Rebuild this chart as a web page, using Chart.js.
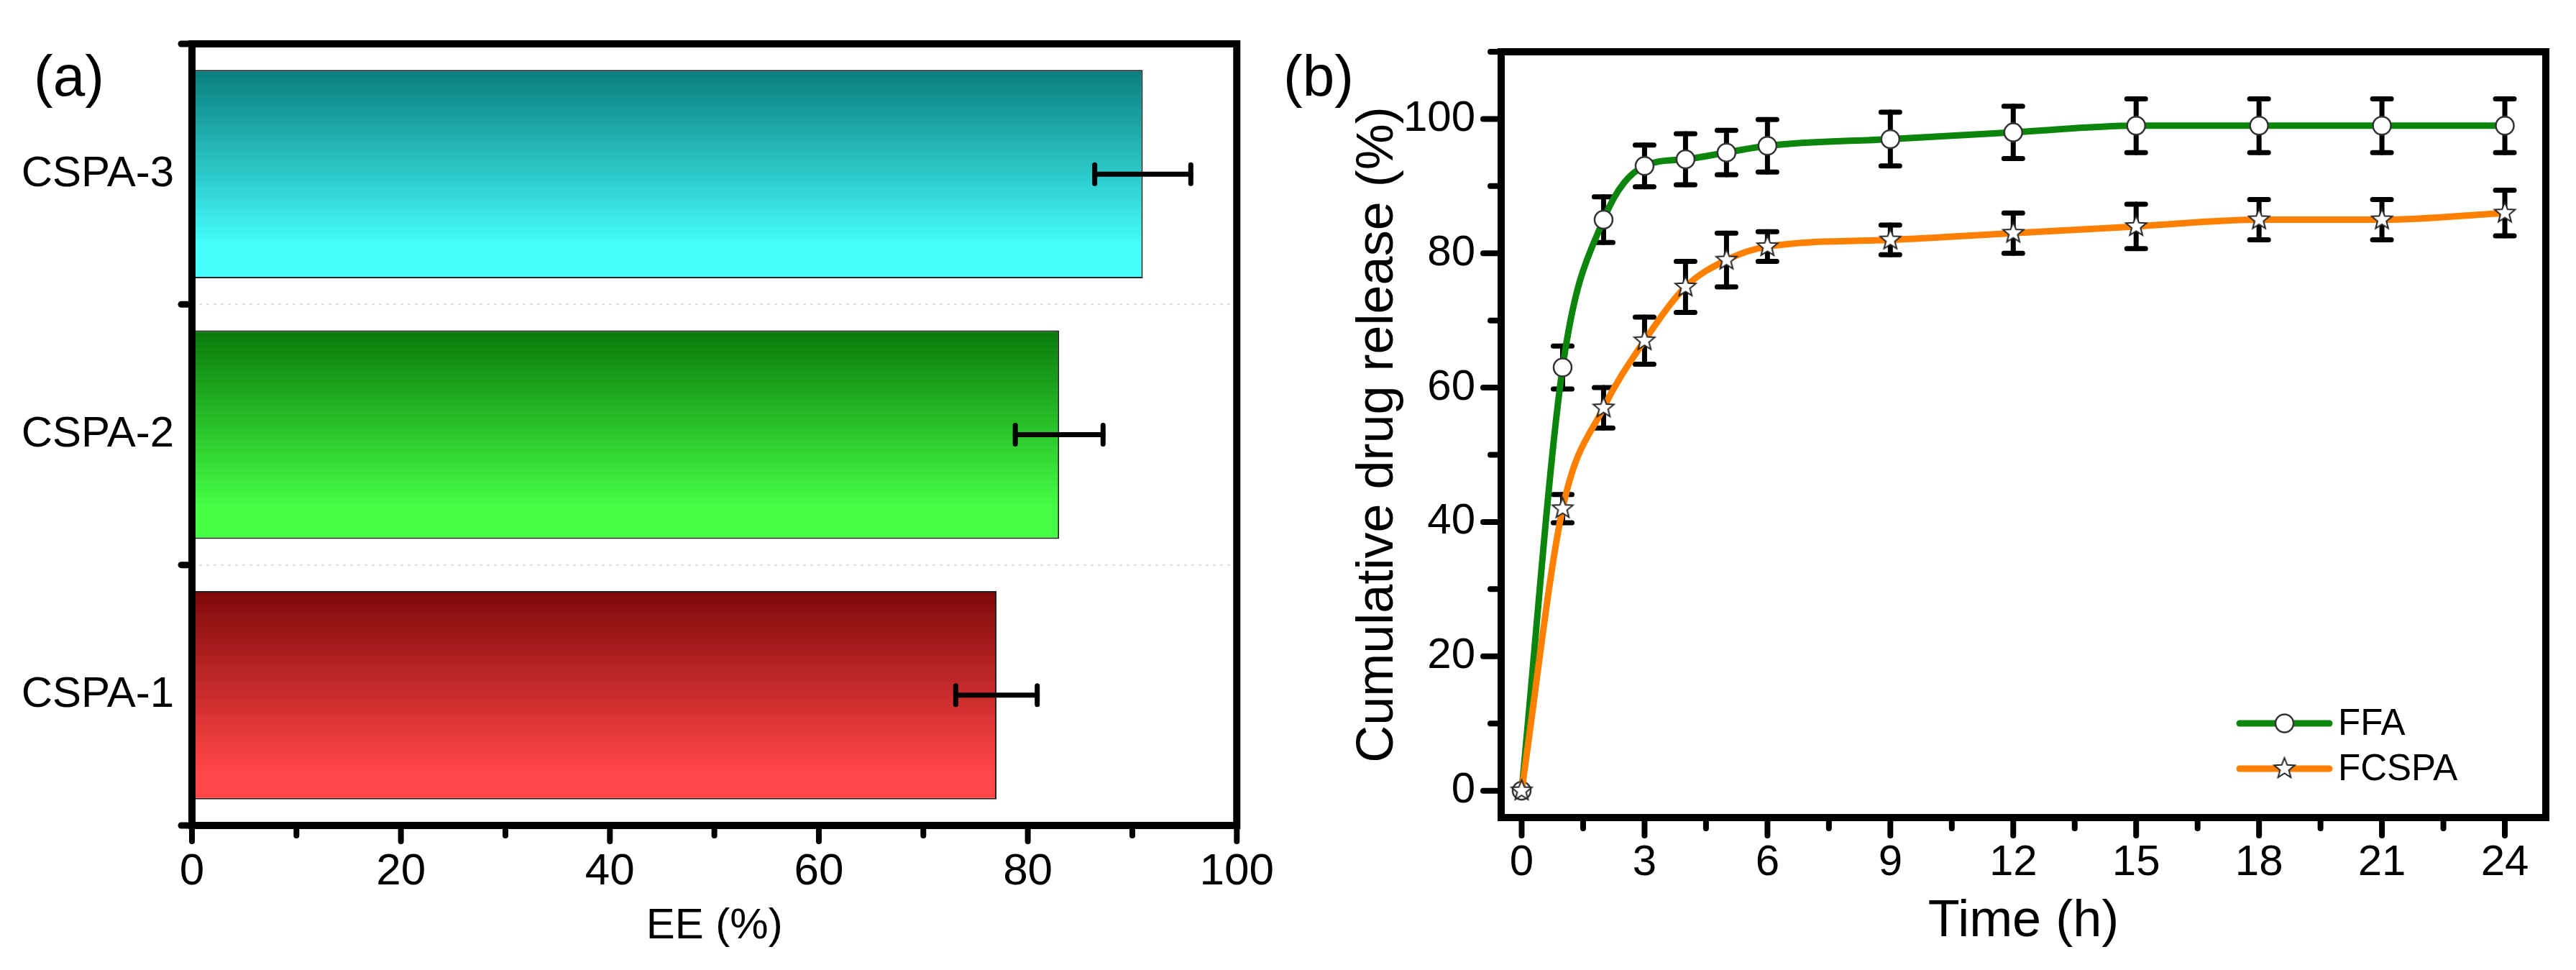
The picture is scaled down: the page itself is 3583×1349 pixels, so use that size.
<!DOCTYPE html>
<html>
<head>
<meta charset="utf-8">
<title>EE (%) and cumulative drug release</title>
<script src="https://cdn.jsdelivr.net/npm/chart.js@4.4.1/dist/chart.umd.min.js"></script>
<style>
  html, body { margin: 0; padding: 0; background: #fff; }
  #boxA { position: absolute; left: 0; top: 0; width: 1800px; height: 1349px; }
  #boxB { position: absolute; left: 1760px; top: 0; width: 1823px; height: 1349px; }
</style>
</head>
<body>
<div id="boxA"><canvas id="chartEE"></canvas></div>
<div id="boxB"><canvas id="chartRelease"></canvas></div>
<script>
//data for panel (a)
const samples = ['CSPA-1', 'CSPA-2', 'CSPA-3'];
const eeValues = [77, 83, 91];
const eeErrors = [3.9, 4.2, 4.6];
const eeTicks = [0, 20, 40, 60, 80, 100];

//data for panel (b)
const hours = [0, 1, 2, 3, 4, 5, 6, 9, 12, 15, 18, 21, 24];
const ffa = [0, 63, 85, 93, 94, 95, 96, 97, 98, 99, 99, 99, 99];
const ffaErrors = [0, 3.2, 3.4, 3.1, 3.8, 3.3, 3.9, 4, 3.9, 4, 4, 4, 4];
const fcspa = [0, 42, 57, 67, 75, 79, 81, 82, 83, 84, 85, 85, 86];
const fcspaErrors = [0, 2.1, 3, 3.5, 3.8, 4, 2.2, 2.2, 3, 3.3, 3, 3, 3.4];
const hourTicks = [0, 3, 6, 9, 12, 15, 18, 21, 24];
const releaseTicks = [0, 20, 40, 60, 80, 100];

//styles
const font = "'Liberation Sans', Arial, sans-serif";
const barTop = ['#7e0909', '#0a790a', '#0a7d7d'];
const barBottom = ['#ff4545', '#45ff45', '#45ffff'];

//star marker drawn once and reused as point style
const star = document.createElement('canvas');
star.width = 36;
star.height = 36;
(function () {
    const c = star.getContext('2d');
    c.beginPath();
    for (let k = 0; k < 10; k++) {
        const r = k % 2 === 0 ? 15 : 6.5;
        const ang = -Math.PI / 2 + k * Math.PI / 5;
        c.lineTo(18 + r * Math.cos(ang), 18 + r * Math.sin(ang));
    }
    c.closePath();
    c.fillStyle = '#fff';
    c.fill();
    c.lineWidth = 2;
    c.strokeStyle = '#222';
    c.stroke();
})();

//gradient for each bar, dark on top and light at bottom
function barGradient(context) {
    const chart = context.chart;
    const area = chart.chartArea;
    const i = context.dataIndex;
    if (!area || i === undefined) return barBottom[0];
    const yc = chart.scales.y.getPixelForValue(i);
    const half = (area.height / samples.length) * 0.8 / 2;
    const g = chart.ctx.createLinearGradient(0, yc - half, 0, yc + half);
    g.addColorStop(0, barTop[i]);
    g.addColorStop(0.85, barBottom[i]);
    g.addColorStop(1, barBottom[i]);
    return g;
}

//minor ticks halfway between the major ones
function minorValues(majors, min, max) {
    const step = majors[1] - majors[0];
    const out = [];
    for (let v = majors[0] + step / 2; v <= max + 1e-9; v += step) {
        if (v >= min) out.push(v);
    }
    return out;
}

function line(ctx, x1, y1, x2, y2) {
    ctx.beginPath();
    ctx.moveTo(x1, y1);
    ctx.lineTo(x2, y2);
    ctx.stroke();
}

//black box and outward ticks
function framePlugin(opt) {
    return {
        id: 'frame',
        afterDraw(chart) {
            const ctx = chart.ctx;
            const a = chart.chartArea;
            ctx.save();
            ctx.strokeStyle = '#000';
            ctx.lineCap = 'round';
            ctx.lineWidth = 8;
            const x = chart.scales.x;
            opt.xMajor.forEach(v => {
                const px = x.getPixelForValue(v);
                line(ctx, px, a.bottom, px, a.bottom + opt.major);
            });
            minorValues(opt.xMajor, x.min, x.max).forEach(v => {
                const px = x.getPixelForValue(v);
                line(ctx, px, a.bottom, px, a.bottom + opt.minor);
            });
            const y = chart.scales.y;
            if (opt.yMajor) {
                opt.yMajor.forEach(v => {
                    const py = y.getPixelForValue(v);
                    line(ctx, a.left, py, a.left - opt.major, py);
                });
                minorValues(opt.yMajor, y.min, y.max).forEach(v => {
                    const py = y.getPixelForValue(v);
                    line(ctx, a.left, py, a.left - opt.minor, py);
                });
            } else {
                //category axis: ticks on the band edges
                const n = chart.data.labels.length;
                const band = a.height / n;
                ctx.lineWidth = 9;
                for (let i = 0; i <= n; i++) {
                    const py = a.top + i * band;
                    line(ctx, a.left, py, a.left - 15, py);
                }
            }
            ctx.lineCap = 'butt';
            ctx.lineWidth = 10;
            ctx.strokeRect(a.left, a.top, a.right - a.left, a.bottom - a.top);
            ctx.fillStyle = '#000';
            ctx.font = '80px ' + font;
            ctx.textBaseline = 'alphabetic';
            ctx.textAlign = 'left';
            ctx.fillText(opt.tag, opt.tagX, 133);
            ctx.restore();
        }
    };
}

//dotted separators between the bars
const separators = {
    id: 'separators',
    beforeDatasetsDraw(chart) {
        const ctx = chart.ctx;
        const a = chart.chartArea;
        const n = chart.data.labels.length;
        const band = a.height / n;
        ctx.save();
        ctx.strokeStyle = '#dcdcdc';
        ctx.lineWidth = 2;
        ctx.setLineDash([4, 6]);
        for (let i = 1; i < n; i++) {
            line(ctx, a.left, a.top + i * band, a.right, a.top + i * band);
        }
        ctx.restore();
    }
};

//horizontal error bars on panel (a)
const barErrors = {
    id: 'barErrors',
    afterDatasetsDraw(chart) {
        const ctx = chart.ctx;
        const x = chart.scales.x;
        const meta = chart.getDatasetMeta(0);
        ctx.save();
        ctx.strokeStyle = '#000';
        ctx.lineWidth = 7;
        ctx.lineCap = 'round';
        meta.data.forEach((bar, i) => {
            const x1 = x.getPixelForValue(eeValues[i] - eeErrors[i]);
            const x2 = x.getPixelForValue(eeValues[i] + eeErrors[i]);
            line(ctx, x1, bar.y, x2, bar.y);
            line(ctx, x1, bar.y - 13, x1, bar.y + 13);
            line(ctx, x2, bar.y - 13, x2, bar.y + 13);
        });
        ctx.restore();
    }
};

//vertical error bars on panel (b), behind the lines
const pointErrors = {
    id: 'pointErrors',
    beforeDatasetsDraw(chart) {
        const ctx = chart.ctx;
        const x = chart.scales.x;
        const y = chart.scales.y;
        ctx.save();
        ctx.strokeStyle = '#000';
        ctx.lineWidth = 7;
        ctx.lineCap = 'round';
        chart.data.datasets.forEach(ds => {
            ds.data.forEach((p, i) => {
                const e = ds.errors[i];
                if (!e) return;
                const px = x.getPixelForValue(p.x);
                const y1 = y.getPixelForValue(p.y - e);
                const y2 = y.getPixelForValue(p.y + e);
                line(ctx, px, y1, px, y2);
                line(ctx, px - 13, y1, px + 13, y1);
                line(ctx, px - 13, y2, px + 13, y2);
            });
        });
        ctx.restore();
    }
};

//legend with line and marker, bottom right of panel (b)
const lineLegend = {
    id: 'lineLegend',
    afterDraw(chart) {
        const ctx = chart.ctx;
        const a = chart.chartArea;
        const x1 = a.right - 426;
        const x2 = a.right - 301;
        ctx.save();
        chart.data.datasets.forEach((ds, k) => {
            const yy = a.bottom - 131 + k * 63;
            ctx.strokeStyle = ds.borderColor;
            ctx.lineWidth = 9;
            ctx.lineCap = 'round';
            line(ctx, x1, yy, x2, yy);
            const xm = (x1 + x2) / 2;
            if (ds.pointStyle === 'circle') {
                ctx.beginPath();
                ctx.arc(xm, yy, 12.5, 0, Math.PI * 2);
                ctx.fillStyle = '#fff';
                ctx.fill();
                ctx.lineWidth = 2.5;
                ctx.strokeStyle = '#333';
                ctx.stroke();
            } else {
                ctx.drawImage(star, xm - 18, yy - 18);
            }
            ctx.fillStyle = '#000';
            ctx.font = '51px ' + font;
            ctx.textBaseline = 'middle';
            ctx.textAlign = 'left';
            ctx.fillText(ds.label, x2 + 12, yy + 2);
        });
        ctx.restore();
    }
};

//panel (a)
const chartEE = new Chart(document.getElementById('chartEE'), {
    type: 'bar',
    data: {
        labels: samples,
        datasets: [{
            label: 'EE',
            data: eeValues,
            backgroundColor: barGradient,
            borderColor: '#222',
            borderWidth: 2,
            borderSkipped: false,
            barPercentage: 0.8,
            categoryPercentage: 1
        }]
    },
    options: {
        indexAxis: 'y',
        responsive: true,
        maintainAspectRatio: false,
        animation: false,
        devicePixelRatio: 1,
        layout: { padding: { left: 0, top: 51, right: 60, bottom: 0 } },
        plugins: { legend: { display: false }, tooltip: { enabled: false } },
        scales: {
            x: {
                type: 'linear',
                min: 0,
                max: 100,
                afterBuildTicks: ax => { ax.ticks = eeTicks.map(v => ({ value: v })); },
                afterFit: ax => { ax.height = 201; },
                grid: { display: false, drawTicks: false },
                border: { display: false },
                ticks: { color: '#000', padding: 28, maxRotation: 0, font: { family: font, size: 62 } },
                title: { display: true, text: 'EE (%)', color: '#000', font: { family: font, size: 60 }, padding: { top: 0, bottom: 25 } }
            },
            y: {
                reverse: true,
                afterFit: ax => { ax.width = 267; },
                grid: { display: false, drawTicks: false },
                border: { display: false },
                ticks: { color: '#000', padding: 25, font: { family: font, size: 60 } }
            }
        }
    },
    plugins: [separators, barErrors, framePlugin({ xMajor: eeTicks, major: 22, minor: 14, tag: '(a)', tagX: 47 })]
});

//panel (b)
const chartRelease = new Chart(document.getElementById('chartRelease'), {
    type: 'line',
    data: {
        datasets: [{
            label: 'FFA',
            data: hours.map((t, i) => ({ x: t, y: ffa[i] })),
            errors: ffaErrors,
            borderColor: '#0b850b',
            borderWidth: 9,
            pointStyle: 'circle',
            pointRadius: 12.5,
            pointBackgroundColor: '#fff',
            pointBorderColor: '#333',
            pointBorderWidth: 2.5,
            cubicInterpolationMode: 'monotone',
            order: 1
        }, {
            label: 'FCSPA',
            data: hours.map((t, i) => ({ x: t, y: fcspa[i] })),
            errors: fcspaErrors,
            borderColor: '#ff8000',
            borderWidth: 9,
            pointStyle: star,
            pointRadius: 14,
            cubicInterpolationMode: 'monotone',
            order: 0
        }]
    },
    options: {
        responsive: true,
        maintainAspectRatio: false,
        animation: false,
        devicePixelRatio: 1,
        layout: { padding: { left: 0, top: 55, right: 42, bottom: 0 } },
        plugins: { legend: { display: false }, tooltip: { enabled: false } },
        scales: {
            x: {
                type: 'linear',
                min: -0.5,
                max: 25,
                afterBuildTicks: ax => { ax.ticks = hourTicks.map(v => ({ value: v })); },
                afterFit: ax => { ax.height = 212; },
                grid: { display: false, drawTicks: false },
                border: { display: false },
                ticks: { color: '#000', padding: 27, maxRotation: 0, font: { family: font, size: 60 } },
                title: { display: true, text: 'Time (h)', color: '#000', font: { family: font, size: 72 }, padding: { top: 0, bottom: 24 } }
            },
            y: {
                type: 'linear',
                min: -4,
                max: 110,
                afterBuildTicks: ax => { ax.ticks = releaseTicks.map(v => ({ value: v })); },
                afterFit: ax => { ax.width = 328; },
                grid: { display: false, drawTicks: false },
                border: { display: false },
                ticks: { color: '#000', padding: 36, font: { family: font, size: 60 } },
                title: { display: true, text: 'Cumulative drug release (%)', color: '#000', font: { family: font, size: 72 }, padding: { top: 114, bottom: 0 } }
            }
        }
    },
    plugins: [pointErrors, lineLegend, framePlugin({ xMajor: hourTicks, yMajor: releaseTicks, major: 25, minor: 15, tag: '(b)', tagX: 25 })]
});
</script>
</body>
</html>
